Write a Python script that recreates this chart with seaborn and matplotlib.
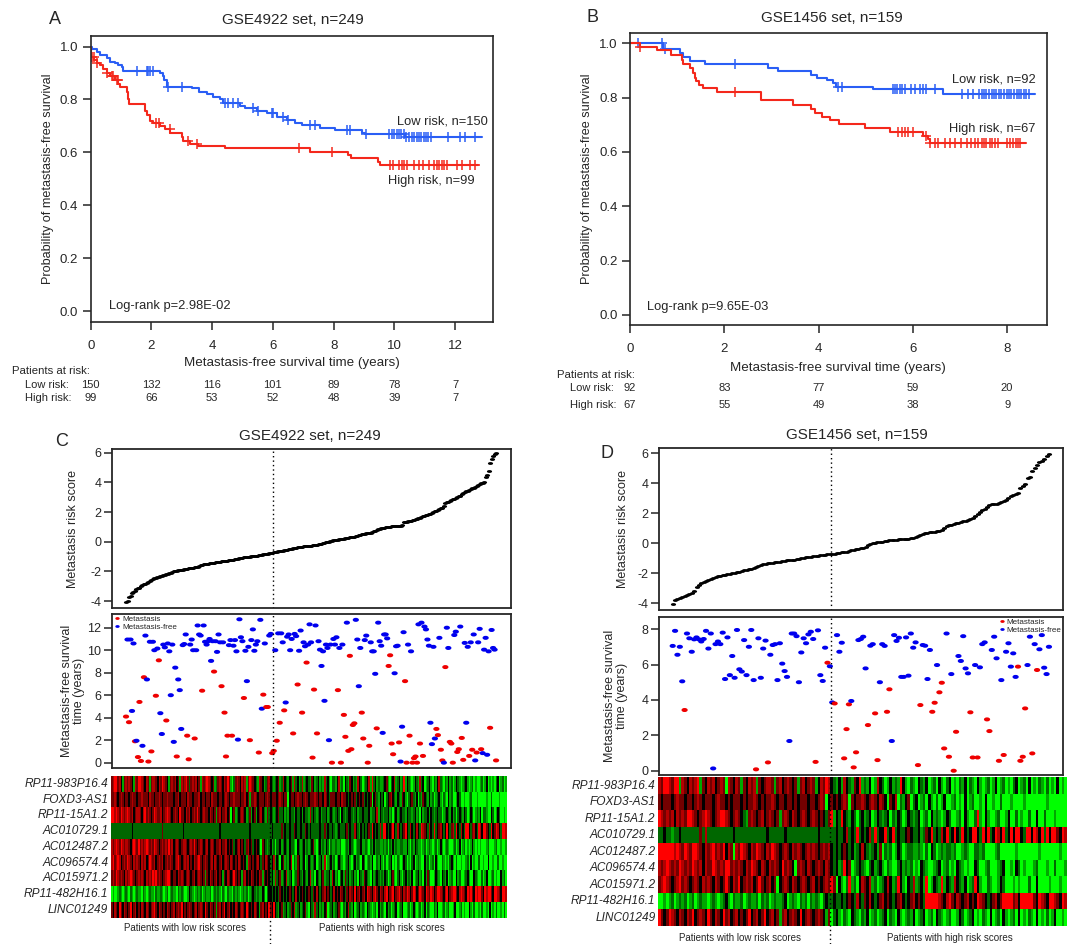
# -*- coding: utf-8 -*-
"""
Risk-score figure: Kaplan-Meier curves (A, B) and risk score / survival /
expression heatmap panels (C, D) for GSE4922 and GSE1456.
"""
import numpy as np
import pandas as pd
import matplotlib

matplotlib.use("Agg")
import matplotlib.pyplot as plt
import seaborn as sns
from matplotlib.colors import LinearSegmentedColormap
from matplotlib.path import Path
from matplotlib.ticker import FormatStrFormatter
from matplotlib.transforms import Affine2D

#########################################################################
# Kaplan-Meier data (step points + censor times)
#########################################################################
# A: GSE4922, low risk
a_low_time = [0, 0.03, 0.2, 0.31, 0.53, 0.64, 0.8, 0.91, 1.02, 1.08,
              2.28, 2.39, 2.43, 2.5, 3.33, 3.58, 3.82, 4.04, 4.26, 4.37,
              4.92, 5.08, 5.47, 5.8, 6.13, 6.45, 6.73, 6.95, 7.55, 8.05,
              8.92, 9.03, 10.35, 12.88]
a_low_surv = [1.0, 0.99, 0.981, 0.968, 0.956, 0.943, 0.937, 0.931, 0.924, 0.908,
              0.899, 0.887, 0.874, 0.849, 0.842, 0.83, 0.82, 0.811, 0.801, 0.788,
              0.775, 0.767, 0.758, 0.748, 0.735, 0.723, 0.713, 0.704, 0.691, 0.685,
              0.675, 0.668, 0.66, 0.66]
a_low_cens = [1.51, 1.84, 1.9, 1.95, 2.06, 2.56, 3.0, 4.42, 4.53, 4.7, 4.86,
              5.36, 5.5, 5.96, 6.02, 6.34, 6.5, 7.22, 7.39, 8.43, 8.54, 9.08,
              9.84, 9.91, 9.99, 10.08, 10.15, 10.23, 10.31, 10.38, 10.49, 10.58,
              10.66, 10.74, 10.81, 10.89, 10.97, 11.04, 11.12, 11.2, 11.78,
              12.16, 12.33, 12.66]
# A: GSE4922, high risk
a_high_time = [0, 0.01, 0.11, 0.2, 0.29, 0.42, 0.53, 0.64, 0.8, 0.91,
               0.97, 1.19, 1.24, 1.27, 1.79, 1.84, 1.95, 2.06, 2.28, 2.45,
               2.61, 3.0, 3.05, 3.27, 3.55, 4.42, 7.22, 8.49, 8.56, 9.47,
               9.53, 12.77]
a_high_surv = [1.0, 0.962, 0.95, 0.937, 0.93, 0.915, 0.9, 0.887, 0.874, 0.86,
               0.849, 0.83, 0.8, 0.782, 0.758, 0.74, 0.72, 0.712, 0.7, 0.687,
               0.674, 0.66, 0.642, 0.632, 0.624, 0.615, 0.602, 0.59, 0.577, 0.565,
               0.553, 0.553]
a_high_cens = [0.04, 0.1, 0.2, 0.55, 0.7, 0.75, 0.85, 0.9, 2.15, 2.25, 2.6,
               3.2, 3.5, 6.85, 7.95, 9.87, 9.97, 10.17, 10.25, 10.32, 10.41,
               10.66, 10.81, 10.96, 11.14, 11.32, 11.39, 11.48, 11.56, 11.65,
               11.72, 12.08, 12.24, 12.49, 12.66]

# B: GSE1456, low risk
b_low_time = [0, 0.71, 1.06, 1.13, 1.27, 1.59, 2.93, 3.14, 3.85, 3.96,
              4.17, 4.31, 4.38, 5.16, 6.64, 8.59]
b_low_surv = [1.0, 0.978, 0.963, 0.95, 0.935, 0.923, 0.91, 0.9, 0.883, 0.871,
              0.865, 0.853, 0.84, 0.831, 0.815, 0.815]
b_low_cens = [0.18, 0.67, 0.74, 2.23, 4.42, 4.49, 5.57, 5.62, 5.67, 5.72,
              5.78, 5.84, 5.97, 6.04, 6.15, 6.22, 6.29, 6.47, 7.05, 7.17,
              7.27, 7.41, 7.46, 7.51, 7.56, 7.62, 7.67, 7.72, 7.77, 7.83,
              7.88, 7.94, 7.99, 8.04, 8.09, 8.15, 8.2, 8.25, 8.3, 8.35, 8.41, 8.46]
# B: GSE1456, high risk
b_high_time = [0, 0.21, 0.57, 0.88, 1.1, 1.13, 1.27, 1.34, 1.38, 1.41,
               1.47, 1.55, 1.84, 2.77, 3.46, 3.85, 3.92, 4.08, 4.24, 4.44,
               4.98, 5.51, 6.22, 6.33, 6.36, 8.41]
b_high_surv = [1.0, 0.988, 0.975, 0.957, 0.94, 0.925, 0.908, 0.89, 0.872, 0.86,
               0.847, 0.835, 0.82, 0.79, 0.773, 0.76, 0.745, 0.73, 0.717, 0.703,
               0.687, 0.672, 0.66, 0.647, 0.632, 0.632]
b_high_cens = [0.21, 2.23, 5.69, 5.76, 5.83, 5.9, 6.0, 6.29, 6.36, 6.47,
               6.54, 6.68, 6.78, 6.89, 7.03, 7.14, 7.24, 7.31, 7.38, 7.46,
               7.51, 7.56, 7.63, 7.68, 7.74, 7.81, 7.99, 8.06, 8.13, 8.18,
               8.23, 8.28]

# patients at risk tables
a_risk_times = [0, 2, 4, 6, 8, 10, 12]
a_risk_low = [150, 132, 116, 101, 89, 78, 7]
a_risk_high = [99, 66, 53, 52, 48, 39, 7]
b_risk_times = [0, 2, 4, 6, 8]
b_risk_low = [92, 83, 77, 59, 20]
b_risk_high = [67, 55, 49, 38, 9]

#########################################################################
# Risk score / survival data per patient (sorted by risk score)
#########################################################################
c_score = [
    -4.05, -4.02, -3.75, -3.65, -3.45, -3.38, -3.33, -3.2, -3.15, -3.1,
    -3.02, -2.95, -2.87, -2.82, -2.78, -2.7, -2.65, -2.6, -2.52, -2.47,
    -2.42, -2.38, -2.35, -2.32, -2.3, -2.27, -2.24, -2.2, -2.16, -2.12,
    -2.08, -2.04, -2.0, -1.98, -1.96, -1.94, -1.92, -1.9, -1.88, -1.86,
    -1.84, -1.82, -1.8, -1.78, -1.76, -1.74, -1.72, -1.7, -1.68, -1.65,
    -1.6, -1.56, -1.53, -1.5, -1.48, -1.47, -1.46, -1.44, -1.42, -1.41,
    -1.39, -1.38, -1.36, -1.35, -1.33, -1.31, -1.3, -1.28, -1.27, -1.25,
    -1.23, -1.21, -1.2, -1.18, -1.16, -1.14, -1.12, -1.1, -1.08, -1.06,
    -1.04, -1.02, -1.01, -1.0, -0.99, -0.98, -0.96, -0.95, -0.94, -0.92,
    -0.9, -0.88, -0.86, -0.84, -0.82, -0.8, -0.78, -0.76, -0.74, -0.72,
    -0.7, -0.68, -0.66, -0.64, -0.62, -0.6, -0.58, -0.56, -0.53, -0.51,
    -0.49, -0.47, -0.45, -0.43, -0.41, -0.39, -0.37, -0.35, -0.33, -0.31,
    -0.3, -0.29, -0.28, -0.27, -0.26, -0.24, -0.22, -0.2, -0.19, -0.17,
    -0.16, -0.14, -0.11, -0.08, -0.05, -0.02, 0.01, 0.04, 0.06, 0.09,
    0.1, 0.11, 0.13, 0.15, 0.17, 0.19, 0.21, 0.23, 0.25, 0.27,
    0.29, 0.31, 0.33, 0.35, 0.38, 0.41, 0.44, 0.47, 0.5, 0.52,
    0.54, 0.56, 0.58, 0.6, 0.62, 0.65, 0.7, 0.75, 0.8, 0.85,
    0.88, 0.9, 0.92, 0.94, 0.96, 0.98, 1.0, 1.02, 1.03, 1.04,
    1.05, 1.06, 1.07, 1.08, 1.09, 1.1, 1.3, 1.32, 1.35, 1.38,
    1.4, 1.42, 1.44, 1.46, 1.5, 1.54, 1.58, 1.62, 1.66, 1.7,
    1.74, 1.78, 1.82, 1.86, 1.9, 1.95, 2.0, 2.05, 2.1, 2.15,
    2.2, 2.25, 2.3, 2.4, 2.58, 2.65, 2.7, 2.75, 2.8, 2.85,
    2.9, 2.95, 3.0, 3.05, 3.1, 3.2, 3.28, 3.34, 3.4, 3.45,
    3.5, 3.55, 3.6, 3.65, 3.72, 3.78, 3.84, 3.9, 3.95, 3.98,
    4.0, 4.38, 4.5, 4.75, 5.3, 5.55, 5.8, 5.88, 5.96,
]
c_time = [
    4.1, 10.95, 3.6, 10.95, 4.6, 10.6, 1.9, 1.95, 0.5, 5.4,
    0.15, 1.5, 7.6, 11.3, 7.4, 0.1, 10.75, 1.0, 10.75, 10.0,
    5.95, 10.15, 9.1, 4.4, 2.55, 10.5, 10.25, 3.75, 10.6, 9.9,
    6.0, 10.5, 1.85, 8.45, 0.55, 7.4, 6.45, 3.0, 10.45, 10.55,
    11.4, 2.4, 0.3, 10.5, 10.95, 10.0, 2.15, 10.0, 12.2, 11.4,
    11.3, 6.4, 12.2, 10.75, 10.5, 10.8, 11.0, 9.05, 10.8, 8.1,
    10.8, 9.85, 11.4, 10.7, 6.8, 10.7, 4.45, 0.55, 2.4, 10.45,
    10.9, 2.4, 10.4, 10.9, 9.9, 2.05, 12.75, 11.15, 10.8, 5.75,
    9.95, 7.25, 10.3, 2.0, 10.9, 11.85, 9.95, 10.5, 10.8, 0.9,
    12.7, 4.8, 6.05, 10.6, 4.95, 4.95, 11.3, 11.45, 0.85, 1.05,
    10.0, 1.95, 11.5, 3.55, 11.5, 10.7, 4.65, 5.35, 11.2, 11.4,
    10.0, 11.0, 2.6, 11.45, 11.25, 6.95, 9.95, 11.75, 4.45, 10.7,
    10.35, 8.9, 10.5, 12.3, 10.7, 0.45, 6.5, 12.2, 2.6, 10.8,
    10.05, 8.6, 9.9, 5.5, 10.5, 10.2, 2.0, 10.5, 0.0, 11.0,
    10.5, 11.15, 6.45, 10.2, 0.0, 10.5, 4.25, 2.3, 12.45, 1.05,
    9.5, 1.2, 3.35, 3.5, 12.7, 10.95, 6.8, 10.2, 4.45, 2.15,
    10.9, 11.3, 0.0, 1.5, 10.7, 9.9, 9.9, 7.9, 3.05, 12.45,
    10.8, 10.4, 2.65, 11.4, 11.4, 11.05, 8.6, 9.55, 1.7, 0.75,
    7.95, 10.35, 10.4, 1.8, 0.1, 3.2, 11.6, 7.25, 0.0, 10.5,
    2.4, 9.9, 0.0, 0.4, 0.55, 0.0, 12.3, 1.7, 12.45, 0.6,
    12.1, 11.85, 10.95, 10.4, 3.55, 1.65, 10.3, 2.15, 3.0, 2.45,
    11.1, 1.15, 0.2, 0.0, 8.5, 12.0, 10.2, 1.85, 1.7, 0.0,
    11.35, 11.65, 0.95, 1.2, 12.1, 2.2, 0.25, 10.65, 3.55, 10.3,
    0.6, 10.7, 1.15, 11.4, 0.2, 0.9, 10.7, 11.9, 1.2, 0.85,
    10.05, 11.1, 0.7, 9.9, 3.1, 11.8, 10.2, 10.05, 0.2,
]
# 1 = metastasis, 0 = metastasis-free
c_event = [
    1, 0, 1, 0, 0, 0, 1, 0, 1, 1,
    1, 0, 1, 0, 0, 1, 0, 1, 0, 0,
    1, 0, 1, 0, 0, 0, 0, 1, 0, 0,
    0, 0, 0, 0, 1, 0, 0, 0, 0, 0,
    0, 1, 1, 0, 0, 0, 1, 0, 0, 0,
    0, 1, 0, 0, 0, 0, 0, 0, 0, 1,
    0, 0, 0, 0, 1, 0, 1, 1, 1, 0,
    0, 1, 0, 0, 0, 0, 0, 0, 0, 1,
    0, 0, 0, 1, 0, 0, 0, 0, 0, 1,
    0, 0, 1, 0, 1, 1, 0, 0, 1, 1,
    0, 1, 0, 1, 0, 0, 1, 0, 0, 0,
    0, 0, 1, 0, 0, 1, 0, 0, 1, 0,
    0, 1, 0, 0, 0, 1, 1, 0, 1, 0,
    0, 0, 0, 0, 0, 0, 0, 0, 1, 0,
    0, 0, 1, 0, 1, 0, 1, 1, 0, 1,
    1, 1, 1, 1, 0, 0, 0, 0, 1, 1,
    0, 0, 1, 1, 0, 0, 0, 0, 1, 0,
    0, 0, 0, 0, 0, 0, 1, 1, 1, 1,
    0, 0, 0, 1, 0, 0, 0, 1, 1, 0,
    1, 0, 1, 1, 1, 1, 0, 1, 0, 1,
    0, 0, 0, 0, 0, 0, 0, 0, 1, 1,
    0, 1, 1, 0, 1, 0, 0, 1, 1, 1,
    0, 0, 1, 1, 0, 1, 1, 0, 0, 0,
    1, 0, 1, 0, 0, 1, 0, 0, 1, 0,
    0, 0, 0, 0, 1, 0, 0, 0, 1,
]

d_score = [
    -4.05, -3.75, -3.7, -3.62, -3.55, -3.48, -3.42, -3.36, -3.28, -3.2,
    -2.9, -2.78, -2.62, -2.55, -2.5, -2.45, -2.4, -2.33, -2.25, -2.2,
    -2.16, -2.13, -2.1, -2.07, -2.04, -2.0, -1.97, -1.94, -1.91, -1.85,
    -1.8, -1.78, -1.74, -1.68, -1.62, -1.55, -1.5, -1.46, -1.38, -1.35,
    -1.33, -1.31, -1.3, -1.27, -1.24, -1.21, -1.18, -1.16, -1.14, -1.12,
    -1.1, -1.08, -1.06, -1.03, -1.0, -0.97, -0.94, -0.91, -0.89, -0.86,
    -0.84, -0.82, -0.8, -0.78, -0.75, -0.73, -0.71, -0.7, -0.68, -0.66,
    -0.64, -0.6, -0.57, -0.55, -0.5, -0.45, -0.42, -0.38, -0.35, -0.32,
    -0.28, -0.22, -0.12, -0.05, 0.0, 0.03, 0.06, 0.09, 0.12, 0.15,
    0.17, 0.19, 0.2, 0.22, 0.24, 0.26, 0.28, 0.3, 0.31, 0.32,
    0.33, 0.36, 0.45, 0.5, 0.56, 0.62, 0.67, 0.7, 0.73, 0.76,
    0.78, 0.8, 0.84, 0.9, 1.05, 1.18, 1.2, 1.24, 1.28, 1.33,
    1.38, 1.42, 1.46, 1.5, 1.56, 1.62, 1.7, 1.8, 1.95, 2.1,
    2.22, 2.3, 2.45, 2.55, 2.6, 2.62, 2.65, 2.7, 2.76, 2.82,
    2.88, 3.0, 3.12, 3.25, 3.3, 3.35, 3.7, 3.82, 3.92, 4.35,
    4.42, 4.85, 5.0, 5.22, 5.4, 5.5, 5.65, 5.8, 5.97,
]
d_time = [
    7.05, 7.9, 6.55, 7.0, 5.05, 3.43, 7.75, 7.48, 6.72, 7.42,
    7.53, 7.42, 7.3, 7.44, 7.9, 6.9, 7.75, 0.13, 7.15, 7.3,
    7.15, 7.8, 5.18, 7.53, 5.4, 6.48, 5.25, 7.95, 5.73, 5.6,
    7.38, 5.4, 7.0, 7.95, 5.12, 0.08, 7.48, 5.25, 6.9, 7.35,
    0.47, 6.55, 7.1, 7.15, 5.12, 7.2, 6.05, 5.63, 5.3, 1.68,
    7.75, 7.75, 7.6, 5.0, 6.68, 7.48, 7.2, 7.7, 7.85, 7.44,
    0.5, 7.93, 5.4, 5.07, 6.95, 6.1, 5.9, 3.86, 3.8, 7.66,
    6.72, 7.23, 0.7, 2.35, 3.75, 3.94, 0.19, 1.04, 7.38, 7.44,
    7.57, 5.78, 2.58, 7.06, 7.15, 3.24, 0.6, 5.0, 7.15, 7.05,
    3.33, 4.6, 1.68, 7.66, 7.33, 7.51, 5.3, 5.3, 7.53, 5.37,
    7.75, 6.95, 7.25, 0.32, 3.71, 7.1, 7.06, 5.18, 6.82, 3.33,
    3.84, 5.97, 4.43, 4.97, 1.26, 7.75, 0.79, 5.46, 0.0, 2.2,
    6.48, 6.2, 7.6, 5.78, 5.5, 3.3, 0.75, 5.97, 0.75, 5.84,
    7.15, 7.25, 2.9, 2.24, 6.82, 7.57, 6.35, 0.56, 5.12, 0.89,
    6.72, 7.2, 5.88, 6.63, 5.3, 5.88, 0.56, 0.79, 3.52, 5.97,
    7.57, 0.98, 7.15, 5.69, 6.86, 7.66, 5.82, 5.46, 7.0,
]
d_event = [
    0, 0, 0, 0, 0, 1, 0, 0, 0, 0,
    0, 0, 0, 0, 0, 0, 0, 0, 0, 0,
    0, 0, 0, 0, 0, 0, 0, 0, 0, 0,
    0, 0, 0, 0, 0, 1, 0, 0, 0, 0,
    1, 0, 0, 0, 0, 0, 0, 0, 0, 0,
    0, 0, 0, 0, 0, 0, 0, 0, 0, 0,
    1, 0, 0, 0, 0, 1, 0, 0, 1, 0,
    0, 0, 1, 1, 1, 0, 1, 1, 0, 0,
    0, 0, 1, 0, 0, 1, 1, 0, 0, 0,
    1, 1, 0, 0, 0, 0, 0, 0, 0, 0,
    0, 0, 0, 1, 1, 0, 0, 0, 0, 1,
    1, 0, 1, 1, 1, 0, 1, 0, 1, 1,
    0, 0, 0, 0, 0, 1, 1, 0, 1, 0,
    0, 0, 1, 1, 0, 0, 0, 1, 0, 1,
    0, 0, 0, 0, 0, 1, 1, 1, 1, 0,
    0, 1, 0, 1, 0, 0, 0, 0, 0,
]

#########################################################################
# Heatmap expression levels, one character per patient
# G bright green .. k black .. R bright red
#########################################################################
genes = ["RP11-983P16.4", "FOXD3-AS1", "RP11-15A1.2", "AC010729.1", "AC012487.2",
         "AC096574.4", "AC015971.2", "RP11-482H16.1", "LINC01249"]
level_codes = {"G": -2.0, "g": -1.3, "e": -0.8, "k": 0.0, "d": 0.9, "r": 1.4, "R": 2.0}

c_heat = [
    "drRRdrkgdr drdkgrdRRr dkrdgdrrdk rdRrdkgdrd rkdgrdrRde drdrkdgrdr Rrdkdgedrd krdRdgGedr dkrdrgdRrd kegrdkgedr "
    "kegekdgerk egkdgrekge rgekegdkge kgegrekgGe egkrgeGkeg dkgegrkeGg ekrgRekgeg gekdgGekrg ekgeRgkegG gkegrekGge "
    "kgGegkregG egkgeGgkeg GgekgGgeGg GGgeGgkGgG gGekGgeGg",
    "ddrdkdrdkd dkdrddkddr dddkrddkdd rdkddrdddk ddrkdddkrd dkdddrkddk ddkrdddkdd kdrdkddrdd dkddrkdgdd rdkdddkdrd "
    "kdddkdrdkd dGkddkdrdd kdrdkdddrd kddkrdkedd dkddkrddke kdkdekdkde kekdGkdegk ekGekdrkeg kegdkgGekd egkGegdkeg "
    "kgeGgekgGe gGkgeGGgke GGgGGgeGGG gGGGGGgGGe GGGGgGGGG",
    "RRrRrdRrdr Rrdrkdrrdk rRdrdkdRrd drkdrRrdkd rdkRddkrdr kdrdRdkdrd dkrdkdgdrk ddrkdGkdge kdrdkgedgk dgkdrkegde "
    "kegekdeekg egkeegkeek gkeegrekeg ekgeekgeke gekeGkegek kegekgeeke eekgeekrgk egeekgeGek gekeegkeeg ekgeGkgeek "
    "gkegekeeGg ekegkgeGek egkeGgkeGg egkGeegGGk eGgkeGGgG",
    "eeeeeeeeee eeekeeeeee eeeeeeeeee eedeeeeeee eeeeekeeee eeeeeeeeee eeeeeeeeke eeeeeeeeee eeeeeeekee eeeeeeeeee "
    "ekeeeeedek eekeedkeek eedkekeeee ekeedekeek egekeeekde keerkegkek ekdeRkeker eRRkekdRke rkekdRkerk ekrkeRrdke "
    "rkeRekdrke kRkedreRke rkeRRkedrk eRrkRRdkeR kdRrkeRRr",
    "rdrRrdRrdr rdkrRrdRdr drRrdrdRrd kdrdrdRdrk drdkdrrdkd rdRdkdrdkd rkdrdkddrk ddrkdkdekd rkdkedrkde kdkeGdkege "
    "kgeGeekgek egkeegGkeg ekgegekdgG ekgegkeGeg geggeGGgeg kegGgeekgg egGegkgeeg gegeGegkge ggeeggkgGe gkeggGgeGg "
    "egGgeGgkgG gegGGgeGgk GgeGgGgkgG gGgGGGgeGG GgeGGgGGg",
    "rRdrRrkdrd Rrdkrdrdkr drkdRrdrkd rdrkdrdrdk drRdkdrdrk dkrdrRdkdr dkdrkrdkdr kdrdkrdkdk rdkdkgrdkd kdrkedkrdk "
    "ekrgkeGkdg egkrGegdkg ekGgkegekG gekgrGgekg eGgkegGgek gGekgegGke GgegkGGegk gGeGgekGgG egGgkeGgGe kGgegGGkge "
    "GgeGkgGGeg GgGekgGeGG gGGgeGkGgG GeGGgGGkGG gGGeGGgGG",
    "drdRrdrdkr drRrdkdrdr dkrdrdRrRd rdkdrRRdkd dkrdrdkdrd kdrkdrdkdg dkrdkdrkdk gdkrdkdRdk dkgdrkdkrd kdkrdgdkdk "
    "ekgrekdgek rgekGgedke gkegkrgeGk egkdgeekgr kgeGekgdek gekgeGkegd kegGkgekeg egkeGgkdgG ekgGekgegk GgekgeGkgd "
    "eGGgkegGke gkGgeGGkge GGgekgGGke gGGeGgkGGg eGgGGkgeG",
    "GgGGgegGge gGegGgeggG egGgeggGeg gegGgeGgeg gGegegGGgk egGgegeGge ggeGgegegG egGeggGege gGgegeGgek egeggkeGek "
    "kekekedkek ekdkekrkek dkekdkedkr kekdrkdkek rkdkrdkedk rdkRkdrkdr kRrdkrRdkr dkrRkdrRkd rRdkrdRrkd RrkdRrdkRr "
    "dRrkdRRrdk rRkdrRRdkr RrdkRrRdkR rRRdkRrRRd kRRrdkRRr",
    "dkrdkRdkrd kdRkdrkdkr dkrdkdrRdk rdkdkrdkdr kdrdRkdkdr dkdrkdrdkR dkrdkdgdrk dRkdrkdkrd kdrdkRdkdk rdkgdrkdkR "
    "dkRkegkdge kgedkrgekg ekdgGkegre kgegkdGgek gekdgGegkr egkGgekgeg GkegGgeGkg egGkgeGgek GgekGGgeGg kgGgeGgkGe "
    "gGGegkGGge GgeGGgkGGg eGgGGkgGeG GgGeGGgGkG gGeGGgGeG",
]

d_heat = [
    "rdRRrdRRgr dkrdrRgdkr drkdrdGrdk rdgdkrdrgd kdrrdgdrkd rdkdgdrkdr dgkrdRrkeg kgrkegdkRg egkGgrkeGg kgegRkgGeg "
    "GkegkGgeGk gGekGgGegk GegGkgGgeG gkGgeGgGek GgeGkGgGeg GeGgGkGgG",
    "dkdddkdrdd kddkdrdkdd dkdrddkdkd ddkdkddrdk dkddrdkddk ddkdkdddkd dkdrdGkdkd kdrdGdkddr dkdrdkrdkG dkrGegkdGe "
    "kGgeGkgGeG gkGGgeGgGk GgeGGgGkGG gGGeGGGgGG GGgGGGGGGG GgGGGGGGG",
    "Rrdrdrkrdr dRRrdkdrRr dkdrRRrdkd rdkegdrdkd rkdrdkdgdr dkrdkdrdkd rdkdkedRgk eRkegkeGek gekGgkegek GegkeGgkeg "
    "ekGgeGkgeg GgkeGGgeGk gGGeRgGkgG GgeGGgkGGe GgGGeGGkGG eGGGgGGGG",
    "eekeegeeke eeeeeedere eeeeeeeeek eeeeeeeeee eekeeeeeek eeeeeeeeee eekeeeeeek eekrekeRek ekreRekkRe kRekeekdke "
    "ekgedkReke rkRekRkeRk ekRRkeRkRe kRrkRekRkR RkeRRkRrkR eRkRRdkRr",
    "RRRRRRrRrd RrdRRrdkrd rRdrdRkrdG rdRrdkrdRr dkrdRrdkdr dkrdrdkdrd rdkdrdrkek ekdkekgekr kegekgdGeg eGgkeGgeeg "
    "gegGeGkeGg egeegeGGge gGGeegeGGG GgeGGGGGGg GGGGGGGGgG GGGGGGgGG",
    "rdrRrdrdRr drdRrdrkrd dRrdrdRRdr drdkrdRrdk rdkrdrdkRd rdkGdrdkrd kdrdkrdkek geRkdGgeke gGekgekgGe gGGekgegeG "
    "gGkegGGgek GgeGgGkegG gGGkeGGgeG GGgekGGgGk eGgGGGgeGG GgGGeGGGg",
    "drRrdkdrRd rdkdrdkrdr dkrdkdRdkr dRkdrdrkdR dkdrkdGkdr dkrdkdrdkd rkdkdrdRdG kgGeRgeGkr dkrgeGgekr kgeRkgGker "
    "gekgRGgkeg Rgkegrkegk GgeRkgGGeg GGgkeGGGgG gGGGeGGkGG GGgGGGgGG",
    "GGgGgeGgeg eGgeGgeggG gegGgekgGe ggeGgeggeG egeGgeggek GgegGegeGe gegGekeeke ekekdkerke dkrkekdrkd kekdrkekdr "
    "kdkeRRRRRr dkrRdkrdkd rkdkRrdkek drkdRRRRdr kRRRRRdkRr dkRRrdkRr",
    "RdkdRrdkrd krdRkdrdkR dkrdkRdrkd rkdkdRkdrk dRkdrkdgdr kdrdkRkdrd kdrdkgdGek gGegGkegGe gkGgeGgekG egGkgGgegk "
    "GgekGgeGke gGgeGGgkeG gekGgGegGk GgeGkgGgeG kGgGegGkGg GeGgkGGgG",
]

#########################################################################
# styling
#########################################################################
sns.set_style("ticks")
plt.rcParams["font.family"] = ["Liberation Sans", "DejaVu Sans"]
plt.rcParams["axes.linewidth"] = 1.2
plt.rcParams["axes.unicode_minus"] = False

km_blue = "#2a5ef5"
km_red = "#f4281c"
dot_red = "#ee0000"
dot_blue = "#0000ee"
gkr = LinearSegmentedColormap.from_list("gkr", ["#00ff00", "#000000", "#ff0000"])

# flat marker shapes (normalised by matplotlib to the marker size)
ellipse = Path.unit_circle().transformed(Affine2D().scale(1.0, 0.65))
dash = Path.unit_circle().transformed(Affine2D().scale(1.0, 0.55))

W, H = 1072, 944
fig = plt.figure(figsize=(W / 100, H / 100), dpi=100)


def px_axes(l, t, r, b):
    return fig.add_axes([l / W, 1 - b / H, (r - l) / W, (b - t) / H])


def px_text(x, y, s, **kw):
    fig.text(x / W, 1 - y / H, s, **kw)


#########################################################################
# Kaplan-Meier panels
#########################################################################
km_setup = [
    dict(box=(90.7, 36, 492.7, 321.7), xlim=(0, 13.24), ylim=(-0.04, 1.04),
         curves=[(a_low_time, a_low_surv, a_low_cens, km_blue),
                 (a_high_time, a_high_surv, a_high_cens, km_red)],
         risk=(a_risk_times, a_risk_low, a_risk_high), risk_x=(12, 25), risk_y=(371, 385, 398),
         low=("Low risk, n=150", 488, 122), high=("High risk, n=99", 475, 181),
         logrank=("Log-rank p=2.98E-02", 109.3, 306), ylab_x=-0.106, xlab_y=363,
         title=("GSE4922 set, n=249", 293, 20), letter=("A", 55, 20)),
    dict(box=(630, 33.3, 1046.7, 325), xlim=(0, 8.84), ylim=(-0.037, 1.037),
         curves=[(b_low_time, b_low_surv, b_low_cens, km_blue),
                 (b_high_time, b_high_surv, b_high_cens, km_red)],
         risk=(b_risk_times, b_risk_low, b_risk_high), risk_x=(557, 570), risk_y=(375, 388, 405),
         low=("Low risk, n=92", 1035.7, 79.3), high=("High risk, n=67", 1035.7, 129.3),
         logrank=("Log-rank p=9.65E-03", 646.7, 306.7), ylab_x=-0.104, xlab_y=368,
         title=("GSE1456 set, n=159", 831.7, 18), letter=("B", 593, 18)),
]

for cfg in km_setup:
    l, t, r, b = cfg["box"]
    ax = px_axes(l, t, r, b)
    for times, surv, cens, color in cfg["curves"]:
        df = pd.DataFrame({"time": times, "surv": surv})
        sns.lineplot(data=df, x="time", y="surv", estimator=None, drawstyle="steps-post",
                     color=color, lw=1.5, ax=ax)
        # censored patients sit on the curve level at their censoring time
        level = np.asarray(surv)[np.searchsorted(times, cens, side="right") - 1]
        sns.scatterplot(x=cens, y=level, marker="+", s=60, color=color, linewidth=1.1,
                        ax=ax, legend=False)

    ax.set_xlim(*cfg["xlim"])
    ax.set_ylim(*cfg["ylim"])
    ax.set_xticks(cfg["risk"][0])
    ax.set_yticks(np.arange(0, 1.01, 0.2))
    ax.yaxis.set_major_formatter(FormatStrFormatter("%.1f"))
    ax.tick_params(axis="both", direction="out", length=6, width=1.1, labelsize=9.5)
    ax.tick_params(axis="x", pad=7)
    ax.tick_params(axis="y", pad=3)
    for sp in ax.spines.values():
        sp.set_visible(True)
        sp.set_linewidth(1.2)

    ax.set_xlabel("Metastasis-free survival time (years)", fontsize=9.6)
    ax.xaxis.label.set_va("center")
    ax.xaxis.set_label_coords(0.5, (b - cfg["xlab_y"]) / (b - t))
    ax.set_ylabel("Probability of metastasis-free survival", fontsize=9.1)
    ax.yaxis.label.set_va("center")
    ax.yaxis.set_label_coords(cfg["ylab_x"], 0.5)

    for key in ("low", "high"):
        s, x, y = cfg[key]
        px_text(x, y, s, ha="right", va="center", fontsize=9.3)
    s, x, y = cfg["logrank"]
    px_text(x, y, s, ha="left", va="center", fontsize=9.3)
    s, x, y = cfg["title"]
    px_text(x, y, s, ha="center", va="center", fontsize=11)
    s, x, y = cfg["letter"]
    px_text(x, y, s, ha="center", va="center", fontsize=13)

    # patients at risk table
    rt, rlow, rhigh = cfg["risk"]
    hx, lx = cfg["risk_x"]
    hy, ly, gy = cfg["risk_y"]
    px_text(hx, hy, "Patients at risk:", ha="left", va="center", fontsize=8.2)
    px_text(lx, ly, "Low risk:", ha="left", va="center", fontsize=8)
    px_text(lx, gy, "High risk:", ha="left", va="center", fontsize=8)
    for tx, n_low, n_high in zip(rt, rlow, rhigh):
        for n, yy in ((n_low, ly), (n_high, gy)):
            ax.text(tx, (b - yy) / (b - t), str(n), transform=ax.get_xaxis_transform(),
                    ha="center", va="center", fontsize=8, clip_on=False)

#########################################################################
# risk score / survival status / heatmap panels
#########################################################################
score_setup = [
    dict(score=c_score, time=c_time, event=c_event, heat=c_heat,
         box_score=(111.7, 449, 511, 608.3), box_surv=(111.7, 614, 511, 768.3),
         box_heat=(111, 776, 506.7, 917.7), xlim=(-9.6, 258), cut=98.7, cut_heat=100,
         ylim_score=(-4.49, 6.25), ylim_surv=(-0.5, 13.22), surv_ticks=range(0, 13, 2),
         legend_loc="upper left", ylab_x=(-0.096, -0.097), heat_line=-0.186,
         notes=((185, 928), (381.7, 928)),
         title=("GSE4922 set, n=249", 310, 436), letter=("C", 62, 442)),
    dict(score=d_score, time=d_time, event=d_event, heat=d_heat,
         box_score=(659, 447.7, 1063, 610), box_surv=(659, 616.7, 1063, 775),
         box_heat=(658.3, 777.3, 1066.7, 926), xlim=(-5.75, 163.9), cut=66.5, cut_heat=67,
         ylim_score=(-4.44, 6.37), ylim_surv=(-0.24, 8.7), surv_ticks=range(0, 9, 2),
         legend_loc="upper right", ylab_x=(-0.088, -0.106), heat_line=-0.12,
         notes=((740, 938), (950, 938)),
         title=("GSE1456 set, n=159", 856.7, 435), letter=("D", 607, 453)),
]

for cfg in score_setup:
    n = len(cfg["score"])
    patients = pd.DataFrame({
        "idx": np.arange(n),
        "score": cfg["score"],
        "time": cfg["time"],
        "status": np.where(np.asarray(cfg["event"]) == 1, "Metastasis", "Metastasis-free"),
    })

    # risk score curve
    ax1 = px_axes(*cfg["box_score"])
    sns.scatterplot(data=patients, x="idx", y="score", color="black", marker=dash, s=14,
                    linewidth=0, ax=ax1, legend=False)
    ax1.axvline(cfg["cut"], color="black", ls=(0, (1, 2.2)), lw=1)
    ax1.set_xlim(*cfg["xlim"])
    ax1.set_ylim(*cfg["ylim_score"])
    ax1.set_yticks(range(-4, 7, 2))
    ax1.set_xticks([])
    ax1.set_xlabel("")
    ax1.set_ylabel("Metastasis risk score", fontsize=9)
    ax1.yaxis.label.set_va("center")
    ax1.yaxis.set_label_coords(cfg["ylab_x"][0], 0.5)

    # survival time with status
    ax2 = px_axes(*cfg["box_surv"])
    sns.scatterplot(data=patients, x="idx", y="time", hue="status",
                    hue_order=["Metastasis", "Metastasis-free"], palette=[dot_red, dot_blue],
                    marker=ellipse, s=20, linewidth=0, ax=ax2)
    ax2.axvline(cfg["cut"], color="black", ls=(0, (1, 2.2)), lw=1)
    ax2.set_xlim(*cfg["xlim"])
    ax2.set_ylim(*cfg["ylim_surv"])
    ax2.set_yticks(cfg["surv_ticks"])
    ax2.set_xticks([])
    ax2.set_xlabel("")
    ax2.set_ylabel("Metastasis-free survival\ntime (years)", fontsize=9, linespacing=1.05)
    ax2.yaxis.label.set_va("center")
    ax2.yaxis.set_label_coords(cfg["ylab_x"][1], 0.5)
    sns.move_legend(ax2, cfg["legend_loc"], title=None, frameon=False, fontsize=5.8,
                    handletextpad=0.1, borderaxespad=0.1, labelspacing=0.0,
                    markerscale=0.7, handlelength=1.0, borderpad=0.1)

    for ax in (ax1, ax2):
        ax.tick_params(axis="y", direction="out", length=5.5, width=1.1, labelsize=9, pad=2)
        for sp in ax.spines.values():
            sp.set_visible(True)
            sp.set_linewidth(1.3)

    # expression heatmap
    ax3 = px_axes(*cfg["box_heat"])
    mat = pd.DataFrame(
        np.array([[level_codes[ch] for ch in row.replace(" ", "")] for row in cfg["heat"]],
                 dtype=float),
        index=genes,
    )
    sns.heatmap(mat, cmap=gkr, vmin=-2, vmax=2, cbar=False, xticklabels=False,
                yticklabels=True, ax=ax3)
    ax3.set_yticklabels(genes, rotation=0, fontstyle="italic", fontsize=8.6)
    ax3.tick_params(axis="y", length=0, pad=2)
    ax3.axvline(cfg["cut_heat"], ymin=cfg["heat_line"], ymax=1, color="black",
                ls=(0, (1, 2.2)), lw=1, clip_on=False)

    (lx, ly), (hx, hy) = cfg["notes"]
    px_text(lx, ly, "Patients with low risk scores", ha="center", va="center", fontsize=7)
    px_text(hx, hy, "Patients with high risk scores", ha="center", va="center", fontsize=7)

    s, x, y = cfg["title"]
    px_text(x, y, s, ha="center", va="center", fontsize=11)
    s, x, y = cfg["letter"]
    px_text(x, y, s, ha="center", va="center", fontsize=13)

fig.savefig("out.png", dpi=100)
